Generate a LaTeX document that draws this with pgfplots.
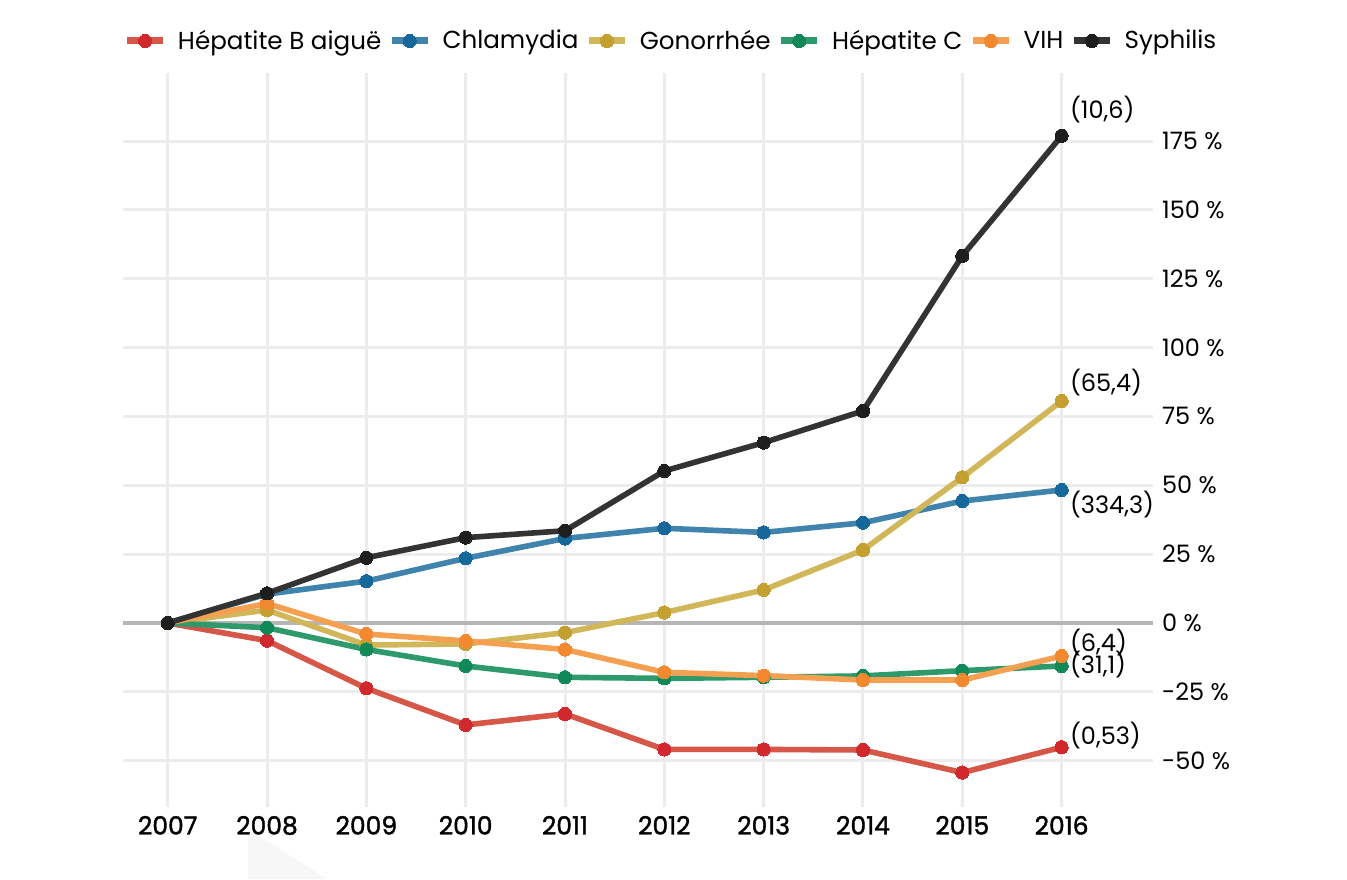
\documentclass[border=0pt]{standalone}
\usepackage{fontspec}
\setmainfont{Poppins}
\newfontfamily\medfont{Poppins}[FakeBold=1.5]
\usepackage{pgfplots}
\pgfplotsset{compat=1.18}
\definecolor{redL}{RGB}{214,86,72}\definecolor{redM}{RGB}{208,40,44}
\definecolor{bluL}{RGB}{64,131,173}\definecolor{bluM}{RGB}{22,104,154}
\definecolor{golL}{RGB}{209,183,90}\definecolor{golM}{RGB}{196,160,48}
\definecolor{grnL}{RGB}{46,154,108}\definecolor{grnM}{RGB}{16,136,88}
\definecolor{orgL}{RGB}{245,160,80}\definecolor{orgM}{RGB}{242,136,48}
\definecolor{blkL}{RGB}{51,51,51}\definecolor{blkM}{RGB}{30,30,30}
\definecolor{gridc}{RGB}{236,236,236}
\definecolor{zeroc}{RGB}{182,182,182}
\begin{document}
\begin{tikzpicture}
\path[use as bounding box] (-61.5pt,-36pt) rectangle (612pt,403.5pt);
\fill[black!3] (62.5pt,-11pt) -- (62.5pt,-36pt) -- (102pt,-36pt) -- cycle;
\begin{axis}[
  at={(0pt,0pt)}, anchor=south west,
  scale only axis, width=515pt, height=367pt,
  xmin=2006.55, xmax=2016.92, ymin=-66.8, ymax=199.7,
  axis line style={draw=none}, tick style={draw=none},
  major tick length=0pt,
  xmajorgrids, ymajorgrids,
  grid style={draw=gridc, line width=1.5pt},
  xtick={2007,2008,2009,2010,2011,2012,2013,2014,2015,2016},
  xticklabels={2007,2008,2009,2010,2011,2012,2013,2014,2015,2016},
  xticklabel style={font=\medfont\fontsize{12.5}{14}\selectfont, yshift=-1pt},
  ytick={-50,-25,0,25,50,75,100,125,150,175},
  yticklabels={-50~\%,-25~\%,0~\%,25~\%,50~\%,75~\%,100~\%,125~\%,150~\%,175~\%},
  yticklabel pos=right,
  yticklabel style={font=\fontsize{12}{14}\selectfont, anchor=west, xshift=1pt},
  legend columns=6,
  legend style={draw=none, fill=none, at={(0.533,1.0436)}, anchor=center,
    font=\fontsize{12.3}{14}\selectfont,
    /tikz/every even column/.append style={column sep=1.5pt}},
  legend image code/.code={\draw[mark repeat=2,mark phase=2,#1,line width=3.5pt] plot coordinates {(0pt,0pt)(9pt,0pt)(18pt,0pt)}; \path (22pt,0pt);},
  every axis plot/.append style={line width=2.8pt, mark=*, mark size=3.3pt},
]
\draw[zeroc, line width=2pt] (axis cs:2006.55,0) -- (axis cs:2016.92,0);
\addplot[color=redL, mark options={fill=redM, draw=redM, line width=0pt}] coordinates {
(2007,0) (2008,-6.4) (2009,-23.7) (2010,-37.0) (2011,-33.0) (2012,-45.9) (2013,-45.9) (2014,-46.1) (2015,-54.3) (2016,-45.1)};
\addlegendentry{Hépatite B aiguë}
\addplot[color=bluL, mark options={fill=bluM, draw=bluM, line width=0pt}] coordinates {
(2007,0) (2008,10.5) (2009,15.2) (2010,23.5) (2011,30.7) (2012,34.4) (2013,32.9) (2014,36.4) (2015,44.3) (2016,48.3)};
\addlegendentry{Chlamydia}
\addplot[color=golL, mark options={fill=golM, draw=golM, line width=0pt}] coordinates {
(2007,0) (2008,4.7) (2009,-8.0) (2010,-7.6) (2011,-3.5) (2012,3.8) (2013,12.0) (2014,26.5) (2015,52.9) (2016,80.6)};
\addlegendentry{Gonorrhée}
\addplot[color=grnL, mark options={fill=grnM, draw=grnM, line width=0pt}] coordinates {
(2007,0) (2008,-1.7) (2009,-9.6) (2010,-15.6) (2011,-19.7) (2012,-20.1) (2013,-19.7) (2014,-19.2) (2015,-17.3) (2016,-15.6)};
\addlegendentry{Hépatite C}
\addplot[color=orgL, mark options={fill=orgM, draw=orgM, line width=0pt}] coordinates {
(2007,0) (2008,7.1) (2009,-4.0) (2010,-6.5) (2011,-9.6) (2012,-17.9) (2013,-19.1) (2014,-20.7) (2015,-20.7) (2016,-12.0)};
\addlegendentry{VIH}
\addplot[color=blkL, mark options={fill=blkM, draw=blkM, line width=0pt}] coordinates {
(2007,0) (2008,10.8) (2009,23.7) (2010,31.0) (2011,33.5) (2012,55.2) (2013,65.5) (2014,77.0) (2015,133.3) (2016,176.9)};
\addlegendentry{Syphilis}
\begin{scope}[every node/.style={font=\fontsize{12}{14}\selectfont, inner sep=0pt, anchor=west}]
\node[xshift=4pt, yshift=13pt] at (axis cs:2016,176.9) {(10,6)};
\node[xshift=4pt, yshift=9.5pt] at (axis cs:2016,80.6) {(65,4)};
\node[xshift=4pt, yshift=-7.5pt] at (axis cs:2016,48.3) {(334,3)};
\node[xshift=4pt, yshift=7pt] at (axis cs:2016,-12.0) {(6,4)};
\node[xshift=4pt, yshift=0.5pt] at (axis cs:2016,-15.6) {(31,1)};
\node[xshift=4pt, yshift=6pt] at (axis cs:2016,-45.1) {(0,53)};
\end{scope}
\end{axis}
\end{tikzpicture}
\end{document}
